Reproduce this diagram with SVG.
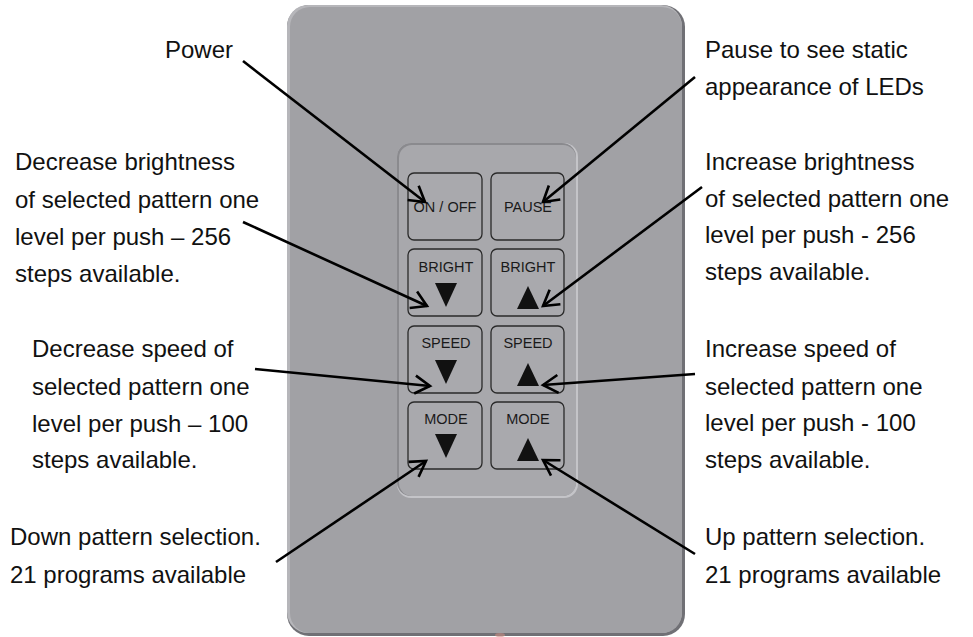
<svg xmlns="http://www.w3.org/2000/svg" width="973" height="637" viewBox="0 0 973 637">
<style>
.t{font-family:"Liberation Sans",Arial,sans-serif;font-size:24px;fill:#111}
.b{font-family:"Liberation Sans",Arial,sans-serif;font-size:14.5px;fill:#1a1a1a;text-anchor:middle}
.btn{fill:#a9a9ad;stroke:#2a2a2a;stroke-width:1.3}
.tri{fill:#111}
.c{stroke:#000;stroke-width:2.6;fill:none}
</style>
<defs>
<marker id="ah" markerUnits="userSpaceOnUse" markerWidth="30" markerHeight="30" refX="0" refY="0" viewBox="-20 -15 25 30" orient="auto">
<path d="M-15,-9 L0,0 L-15,9" fill="none" stroke="#000" stroke-width="2.6" stroke-linejoin="miter"/>
</marker>
</defs>
<rect width="973" height="637" fill="#fff"/>
<g id="plate">
<rect x="287" y="5" width="398" height="631" rx="22" fill="#707075"/>
<rect x="287" y="5" width="395" height="628" rx="21" fill="#b6b6ba"/>
<rect x="290" y="7" width="392" height="626" rx="20" fill="#a1a1a5"/>
<ellipse cx="500" cy="635" rx="5" ry="2" fill="#c98a80" opacity="0.6"/>
</g>
<g id="bezel">
<rect x="397" y="143" width="181" height="355" rx="14" fill="#c4c4c8"/>
<rect x="397" y="143" width="179" height="353" rx="14" fill="#8a8a8e"/>
<rect x="399" y="145" width="177" height="351" rx="13" fill="#a8a8ac"/>
</g>
<g id="btn-onoff"><rect class="btn" x="408" y="173" width="74" height="67" rx="6"/><text class="b" x="445" y="212">ON / OFF</text></g>
<g id="btn-pause"><rect class="btn" x="491" y="173" width="73" height="67" rx="6"/><text class="b" x="528" y="212">PAUSE</text></g>
<g id="btn-bright-down"><rect class="btn" x="408" y="249" width="74" height="67" rx="6"/><text class="b" x="446" y="272">BRIGHT</text><polygon class="tri" points="435,283 457,283 446,307"/></g>
<g id="btn-bright-up"><rect class="btn" x="491" y="249" width="73" height="67" rx="6"/><text class="b" x="528" y="272">BRIGHT</text><polygon class="tri" points="517,309 539,309 528,286"/></g>
<g id="btn-speed-down"><rect class="btn" x="408" y="326" width="74" height="67" rx="6"/><text class="b" x="446" y="348">SPEED</text><polygon class="tri" points="435,360 457,360 446,384"/></g>
<g id="btn-speed-up"><rect class="btn" x="491" y="326" width="73" height="67" rx="6"/><text class="b" x="528" y="348">SPEED</text><polygon class="tri" points="517,386 539,386 528,363"/></g>
<g id="btn-mode-down"><rect class="btn" x="408" y="402" width="74" height="67" rx="6"/><text class="b" x="446" y="424">MODE</text><polygon class="tri" points="435,434 457,434 446,458"/></g>
<g id="btn-mode-up"><rect class="btn" x="491" y="402" width="73" height="67" rx="6"/><text class="b" x="528" y="424">MODE</text><polygon class="tri" points="517,461 539,461 528,438"/></g>
<g id="connectors">
<line class="c" x1="243" y1="61" x2="425" y2="202" marker-end="url(#ah)"/>
<line class="c" x1="695" y1="77" x2="543" y2="202" marker-end="url(#ah)"/>
<line class="c" x1="243" y1="222" x2="427" y2="306" marker-end="url(#ah)"/>
<line class="c" x1="702" y1="187" x2="543" y2="306" marker-end="url(#ah)"/>
<line class="c" x1="255" y1="369" x2="430" y2="386" marker-end="url(#ah)"/>
<line class="c" x1="695" y1="374" x2="543" y2="385" marker-end="url(#ah)"/>
<line class="c" x1="276" y1="562" x2="426" y2="461" marker-end="url(#ah)"/>
<line class="c" x1="695" y1="554" x2="543" y2="460" marker-end="url(#ah)"/>
</g>
<g id="label-power"><text class="t" x="165" y="58">Power</text></g>
<g id="label-pause"><text class="t" x="705" y="58">Pause to see static</text><text class="t" x="705" y="95">appearance of LEDs</text></g>
<g id="label-dec-bright"><text class="t" x="15" y="170">Decrease brightness</text><text class="t" x="15" y="208">of selected pattern one</text><text class="t" x="15" y="245">level per push – 256</text><text class="t" x="15" y="282">steps available.</text></g>
<g id="label-inc-bright"><text class="t" x="705" y="170">Increase brightness</text><text class="t" x="705" y="207">of selected pattern one</text><text class="t" x="705" y="243">level per push - 256</text><text class="t" x="705" y="280">steps available.</text></g>
<g id="label-dec-speed"><text class="t" x="32" y="357">Decrease speed of</text><text class="t" x="32" y="395">selected pattern one</text><text class="t" x="32" y="432">level per push – 100</text><text class="t" x="32" y="468">steps available.</text></g>
<g id="label-inc-speed"><text class="t" x="705" y="357">Increase speed of</text><text class="t" x="705" y="395">selected pattern one</text><text class="t" x="705" y="431">level per push - 100</text><text class="t" x="705" y="468">steps available.</text></g>
<g id="label-down"><text class="t" x="10" y="545">Down pattern selection.</text><text class="t" x="10" y="583">21 programs available</text></g>
<g id="label-up"><text class="t" x="705" y="545">Up pattern selection.</text><text class="t" x="705" y="583">21 programs available</text></g>
</svg>
